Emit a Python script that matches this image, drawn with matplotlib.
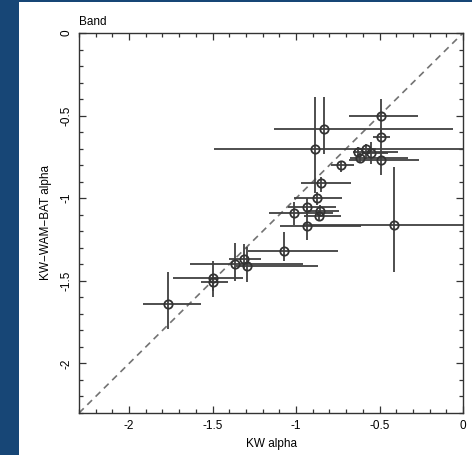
import numpy as np
import matplotlib
matplotlib.use('Agg')
import matplotlib.pyplot as plt
from matplotlib.patches import Rectangle
from matplotlib.ticker import MultipleLocator

plt.rcParams['font.family'] = ['Liberation Sans', 'DejaVu Sans']

# KW alpha, KW-WAM-BAT alpha, with asymmetric errors (lo, hi as bounds)
kw_alpha = [-0.49, -0.83, -0.886, -0.49, -0.63, -0.58, -0.553, -0.617, -0.49,
            -0.728, -0.848, -0.874, -1.01, -0.935, -0.858, -0.862, -0.935,
            -0.413, -1.07, -1.31, -1.294, -1.364, -1.50, -1.50, -1.766]
kwb_alpha = [-0.50, -0.58, -0.70, -0.63, -0.72, -0.705, -0.725, -0.755, -0.77,
             -0.80, -0.905, -1.0, -1.09, -1.056, -1.076, -1.107, -1.17,
             -1.16, -1.317, -1.367, -1.408, -1.398, -1.482, -1.508, -1.64]
x_lo = [-0.68, -1.13, -1.49, -0.54, -0.66, -0.64, -0.60, -0.674, -0.68,
        -0.79, -0.97, -1.01, -1.16, -1.05, -0.93, -0.95, -1.095,
        -0.95, -1.29, -1.40, -1.36, -1.637, -1.736, -1.57, -1.916]
x_hi = [-0.27, -0.06, 0.05, -0.44, -0.39, -0.52, -0.45, -0.33, -0.265,
        -0.655, -0.67, -0.724, -0.78, -0.76, -0.74, -0.73, -0.613,
        0.10, -0.746, -1.21, -0.87, -0.96, -1.316, -1.41, -1.571]
y_lo = [-0.60, -0.73, -0.97, -0.69, -0.75, -0.765, -0.795, -0.785, -0.86,
        -0.84, -0.96, -1.04, -1.16, -1.10, -1.11, -1.14, -1.25,
        -1.446, -1.38, -1.42, -1.506, -1.50, -1.56, -1.596, -1.79]
y_hi = [-0.40, -0.39, -0.386, -0.58, -0.69, -0.67, -0.66, -0.725, -0.69,
        -0.78, -0.87, -0.96, -1.02, -1.0, -1.04, -1.07, -1.045,
        -0.81, -1.205, -1.28, -1.295, -1.27, -1.38, -1.46, -1.448]

fig = plt.figure(figsize=(4.72, 4.55), dpi=100, facecolor='white')
# blue slide border on the left and top
fig.patches.append(Rectangle((0, 0), 19 / 472, 1, transform=fig.transFigure,
                             facecolor='#174676', edgecolor='none'))
fig.patches.append(Rectangle((0, 1 - 2 / 455), 1, 2 / 455,
                             transform=fig.transFigure,
                             facecolor='#174676', edgecolor='none'))

ax = fig.add_axes([79 / 472, 1 - 413 / 455, 384 / 472, 380 / 455])

x = np.array(kw_alpha)
y = np.array(kwb_alpha)
xerr = [x - np.array(x_lo), np.array(x_hi) - x]
yerr = [y - np.array(y_lo), np.array(y_hi) - y]

ax.plot([-2.3, 0], [-2.3, 0], ls=(0, (4, 3)), color='0.45', lw=1.2, zorder=1)
ax.errorbar(x, y, xerr=xerr, yerr=yerr, fmt='o', ms=6, mfc='none',
            mec='0.2', mew=1.3, ecolor='0.25', elinewidth=1.3, capsize=0,
            zorder=2)

ax.set_xlim(-2.3, 0)
ax.set_ylim(-2.3, 0)
ax.xaxis.set_major_locator(MultipleLocator(0.5))
ax.yaxis.set_major_locator(MultipleLocator(0.5))
ax.xaxis.set_minor_locator(MultipleLocator(0.1))
ax.yaxis.set_minor_locator(MultipleLocator(0.1))
ax.tick_params(which='both', direction='in', top=True, right=True,
               labelsize=8.5, color='0.2', width=0.9)
ax.tick_params(which='major', length=5, pad=5)
ax.tick_params(which='minor', length=3)
ax.xaxis.set_major_formatter(plt.FuncFormatter(lambda v, p: '%g' % v if v != 0 else '0'))
ax.yaxis.set_major_formatter(plt.FuncFormatter(lambda v, p: '%g' % v if v != 0 else '0'))
for lab in ax.get_yticklabels():
    lab.set_rotation(90)
    lab.set_va('center')
for s in ax.spines.values():
    s.set_linewidth(1.0)
    s.set_color('0.2')

ax.set_xlabel('KW alpha', fontsize=8.5, labelpad=4)
ax.set_ylabel('KW\u2212WAM\u2212BAT alpha', fontsize=8.5, labelpad=6)
ax.text(0.0, 1.012, 'Band', transform=ax.transAxes, fontsize=8.5,
        ha='left', va='bottom')

fig.savefig('out.png', dpi=100, facecolor=fig.get_facecolor())
